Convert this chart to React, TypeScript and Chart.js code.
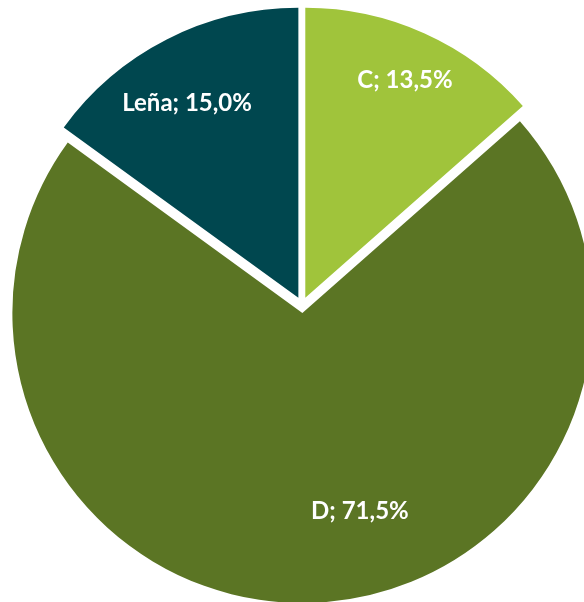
import React, { useEffect, useRef } from "react";
import { Chart, registerables } from "chart.js";

Chart.register(...registerables);

const categories = ["C", "D", "Leña"];
const shares = [13.5, 71.5, 15.0];
const colors = ["#A0C43B", "#5B7524", "#00474F"];

// style: how far each slice is pulled out from the centre (px)
const EXPLODE = 8;
// label placement tweaks (angle shift in degrees, fraction of radius)
const labelAngleShift = [0.3, -13, -2.7];
const labelRadiusFrac = [0.853, 0.738, 0.8];

const explodePlugin = {
  id: "explodeSlices",
  beforeDatasetDraw(chart: any, args: any) {
    const ctx = chart.ctx;
    args.meta.data.forEach((arc: any) => {
      const { startAngle, endAngle } = arc.getProps(["startAngle", "endAngle"], true);
      const mid = (startAngle + endAngle) / 2;
      ctx.save();
      ctx.translate(Math.cos(mid) * EXPLODE, Math.sin(mid) * EXPLODE);
      arc.draw(ctx, chart.chartArea);
      ctx.restore();
    });
    return false;
  },
};

const labelPlugin = {
  id: "sliceLabels",
  afterDatasetsDraw(chart: any) {
    const meta = chart.getDatasetMeta(0);
    const ctx = chart.ctx;
    ctx.save();
    ctx.font = "bold 24px Lato, 'Open Sans', sans-serif";
    ctx.fillStyle = "#ffffff";
    ctx.textAlign = "center";
    ctx.textBaseline = "middle";
    meta.data.forEach((arc: any, i: number) => {
      const { x, y, startAngle, endAngle, outerRadius } = arc.getProps(
        ["x", "y", "startAngle", "endAngle", "outerRadius"],
        true
      );
      const mid = (startAngle + endAngle) / 2 + (labelAngleShift[i] * Math.PI) / 180;
      const r = outerRadius * labelRadiusFrac[i];
      const text = `${categories[i]}; ${shares[i].toFixed(1).replace(".", ",")}%`;
      ctx.fillText(text, x + Math.cos(mid) * r, y + Math.sin(mid) * r);
    });
    ctx.restore();
  },
};

export default function App() {
  const ref = useRef<HTMLCanvasElement>(null);
  useEffect(() => {
    if (!ref.current) return;
    const chart = new Chart(ref.current, {
      type: "pie",
      data: {
        labels: categories,
        datasets: [
          {
            data: shares,
            backgroundColor: colors,
            borderWidth: 0,
            offset: 0,
          } as any,
        ],
      },
      options: {
        animation: false,
        responsive: true,
        maintainAspectRatio: false,
        radius: 290,
        layout: { padding: { left: 20, top: 8, right: 0, bottom: 0 } },
        plugins: {
          legend: { display: false },
          tooltip: { enabled: false },
        },
      } as any,
      plugins: [explodePlugin, labelPlugin],
    });
    return () => chart.destroy();
  }, []);
  return (
    <div
      style={{
        position: "fixed",
        left: 0,
        top: 0,
        width: 584,
        height: 602,
        overflow: "hidden",
        background: "#ffffff",
      }}
    >
      <canvas ref={ref} />
    </div>
  );
}
